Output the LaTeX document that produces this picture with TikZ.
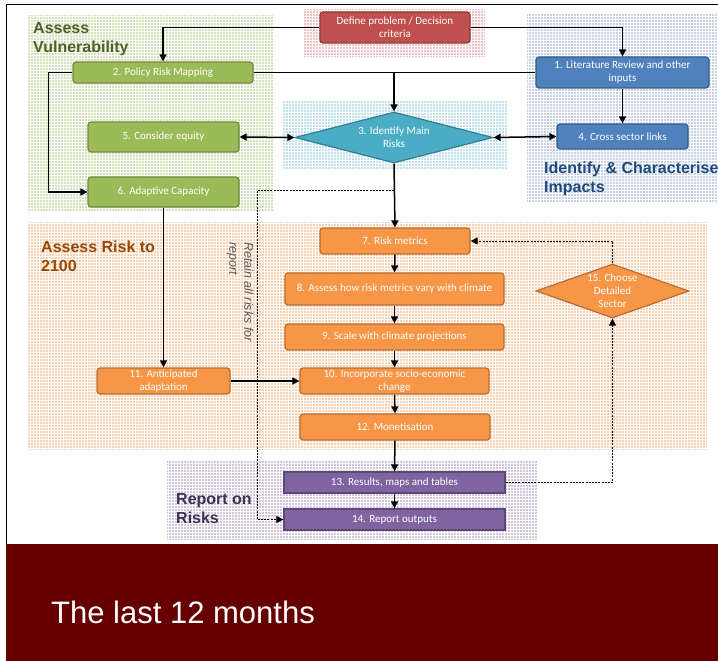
\documentclass[tikz,border=0pt]{standalone}
\usepackage{fontspec}
\setmainfont{Liberation Sans}
\newfontfamily\calfont{Carlito}
\newfontfamily\arfont{Liberation Sans}
\usetikzlibrary{shapes.geometric,arrows.meta,patterns}
\definecolor{bgGreen}{HTML}{D3E0B8}
\definecolor{bgRed}{HTML}{EDC3C1}
\definecolor{bgBlue}{HTML}{C5D4E8}
\definecolor{bgCyan}{HTML}{C0E2EC}
\definecolor{bgOrange}{HTML}{FAD0AE}
\definecolor{bgPurple}{HTML}{D0C7DC}
\definecolor{cGreen}{HTML}{9BBB59}
\definecolor{dGreen}{HTML}{71893F}
\definecolor{cBlue}{HTML}{4F81BD}
\definecolor{dBlue}{HTML}{385D8A}
\definecolor{cCyan}{HTML}{4BACC6}
\definecolor{dCyan}{HTML}{357D91}
\definecolor{cOrange}{HTML}{F79646}
\definecolor{dOrange}{HTML}{B66D31}
\definecolor{cPurple}{HTML}{8064A2}
\definecolor{dPurple}{HTML}{5C4776}
\definecolor{cRed}{HTML}{C0504D}
\definecolor{dRed}{HTML}{8C3836}
\definecolor{tGreen}{HTML}{4F6228}
\definecolor{tBlue}{HTML}{1F497D}
\definecolor{tOrange}{HTML}{984807}
\definecolor{tPurple}{HTML}{3F3151}
\definecolor{banner}{HTML}{660000}
\begin{document}
\begin{tikzpicture}[x=1pt,y=-1pt,
  zonebg/.style={pattern=grid, pattern color=white},
  box/.style={rounded corners=3pt, line width=1.2pt, text=white, align=center,
    font=\calfont\fontsize{11}{13}\selectfont, inner sep=0pt},
  gbox/.style={box, fill=cGreen, draw=dGreen},
  bbox/.style={box, fill=cBlue, draw=dBlue},
  obox/.style={box, fill=cOrange, draw=dOrange},
  pbox/.style={box, rounded corners=0pt, fill=cPurple, draw=dPurple},
  rbox/.style={box, fill=cRed, draw=dRed},
  dia/.style={diamond, line width=1.2pt, inner sep=0pt},
  dialabel/.style={text=white, align=center, inner sep=0pt,
    font=\calfont\fontsize{11}{13}\selectfont},
  zone/.style={font=\arfont\bfseries\fontsize{16}{19}\selectfont, align=left,
    anchor=north west, inner sep=0pt},
  conn/.style={line width=1.5pt, -{Triangle[length=7pt,width=7pt]}},
  dconn/.style={line width=1.5pt, {Triangle[length=7pt,width=7pt]}-{Triangle[length=7pt,width=7pt]}},
  plain/.style={line width=1.5pt},
  dc/.style={line width=0.9pt, dash pattern=on 2pt off 1.2pt, -{Triangle[length=7pt,width=7pt]}}
]
\useasboundingbox (0,0) rectangle (718,661);
\fill[white] (0,0) rectangle (718,661);
% background regions
\fill[bgGreen] (27,15) rectangle (273,212);
\fill[zonebg] (27,15) rectangle (273,212);
\fill[bgRed] (304,9) rectangle (485,57);
\fill[zonebg] (304,9) rectangle (485,57);
\fill[bgBlue] (527,13) rectangle (718,202);
\fill[zonebg] (527,13) rectangle (718,202);
\fill[bgCyan] (282,100) rectangle (508,170);
\fill[zonebg] (282,100) rectangle (508,170);
\fill[bgOrange] (27,222) rectangle (707,450);
\fill[zonebg] (27,222) rectangle (707,450);
\fill[bgPurple] (167,461) rectangle (537,540);
\fill[zonebg] (167,461) rectangle (537,540);
% slide frame
\draw[line width=1pt] (6,544) -- (6,5) -- (718,5);
\fill[banner] (6,544) rectangle (718,661);
\node[anchor=base west, inner sep=0pt, text=white, font=\arfont\fontsize{31}{36}\selectfont] (title) at (51,623) {The last 12 months};
% zone labels
\node[zone, text=tGreen] (zv) at (33,22) {Assess\\Vulnerability};
\node[zone, text=tBlue] (zi) at (544,162) {Identify \& Characterise\\Impacts};
\node[zone, text=tOrange] (zr) at (41,241) {Assess Risk to\\2100};
\node[zone, text=tPurple] (zp) at (176,493) {Report on\\Risks};
% nodes
\node[rbox, minimum width=150pt, minimum height=31pt] (def) at (395,27.5) {Define problem / Decision\\criteria};
\node[gbox, minimum width=180pt, minimum height=21pt] (pol) at (163,72.5) {2. Policy Risk Mapping};
\node[gbox, minimum width=151pt, minimum height=30pt] (eq) at (163.5,137) {5. Consider equity};
\node[gbox, minimum width=151pt, minimum height=30pt] (adapt) at (163.5,192) {6. Adaptive Capacity};
\node[dia, fill=cCyan, draw=dCyan, minimum width=198pt, minimum height=51pt] (ident) at (394,137.5) {};
\node[dialabel] (identl) at (ident.center) {3. Identify Main\\Risks};
\node[bbox, minimum width=173pt, minimum height=31pt] (lit) at (622.5,72.5) {1. Literature Review and other\\inputs};
\node[bbox, minimum width=131pt, minimum height=25pt] (cross) at (622.5,136.5) {4. Cross sector links};
\node[obox, minimum width=150pt, minimum height=26pt] (rm) at (395,241) {7. Risk metrics};
\node[obox, minimum width=219pt, minimum height=32pt] (vary) at (394.5,289) {8. Assess how risk metrics vary with climate};
\node[obox, minimum width=219pt, minimum height=26pt] (scale) at (394.5,337) {9. Scale with climate projections};
\node[obox, minimum width=189pt, minimum height=26pt] (socio) at (394.5,381) {10. Incorporate socio-economic\\change};
\node[obox, minimum width=190pt, minimum height=26pt] (mon) at (395,427) {12. Monetisation};
\node[obox, minimum width=133pt, minimum height=26pt] (anti) at (163.5,381) {11. Anticipated\\adaptation};
\node[dia, fill=cOrange, draw=dOrange, minimum width=153pt, minimum height=54pt] (choose) at (612.5,291) {};
\node[dialabel] (choosel) at (choose.center) {15. Choose\\Detailed\\Sector};
\node[pbox, minimum width=221pt, minimum height=21pt] (res) at (394.5,482.5) {13. Results, maps and tables};
\node[pbox, minimum width=221pt, minimum height=21pt] (out) at (394.5,519.5) {14. Report outputs};
% retain label
\node[rotate=-90, inner sep=0pt, align=left, text=black!65, font=\arfont\itshape\fontsize{12.5}{15}\selectfont] (ret) at (240,292) {Retain all risks for\\report};
% connectors
\draw[conn] (def.west) -| (pol.north);
\draw[conn] (def.east) -| (lit.north);
\draw[plain] (pol.east) -- (lit.west);
\draw[conn] (pol.east -| ident.north) -- (ident.north);
\draw[conn] (pol.west) -- ++(-24,0) |- (adapt.west);
\draw[dconn] (eq.east) -- (ident.west);
\draw[dconn] (ident.east) -- (cross.west);
\draw[conn] (lit.south) -- (cross.north);
\draw[conn] (ident.south) -- (rm.north);
\draw[conn] (adapt.south) -- (anti.north);
\draw[conn] (anti.east) -- (socio.west);
\draw[conn] (rm.south) -- (vary.north);
\draw[conn] (vary.south) -- (scale.north);
\draw[conn] (scale.south) -- (socio.north);
\draw[conn] (socio.south) -- (mon.north);
\draw[conn] (mon.south) -- (res.north);
\draw[conn] (res.south) -- (out.north);
% dashed
\coordinate (rs) at (394,190);
\coordinate (rk) at (257,190);
\draw[dc] (rs) -- (rk) |- (out.west);
\draw[dc] (res.east) -| (choose.south);
\draw[dc] (choose.north) |- (rm.east);
\end{tikzpicture}
\end{document}
